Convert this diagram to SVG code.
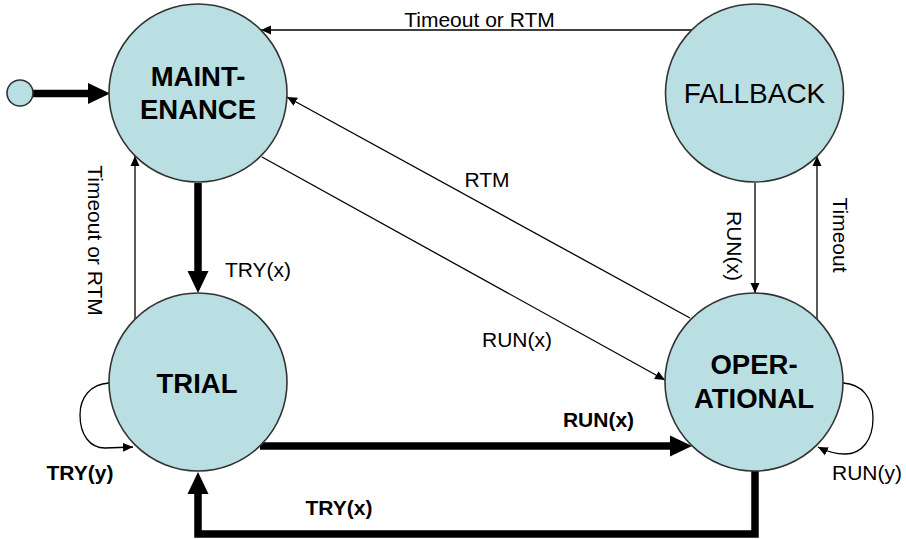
<svg xmlns="http://www.w3.org/2000/svg" width="906" height="539" viewBox="0 0 906 539">
<style>
.node{fill:#BADFE3;stroke:#333333;stroke-width:1.6}
.nb{font-family:"Liberation Sans",Arial,sans-serif;font-weight:bold;font-size:27.5px;fill:#000;text-anchor:middle}
.nr{font-family:"Liberation Sans",Arial,sans-serif;font-size:28px;fill:#000;text-anchor:middle}
.lbl{font-family:"Liberation Sans",Arial,sans-serif;font-size:21px;fill:#000;text-anchor:middle}
.lblb{font-family:"Liberation Sans",Arial,sans-serif;font-size:21px;font-weight:bold;fill:#000;text-anchor:middle}
.thin{fill:none;stroke:#000;stroke-width:1.3;marker-end:url(#ah)}
.thick{fill:none;stroke:#000;stroke-width:7.5;stroke-linejoin:miter;marker-end:url(#AH)}
</style>
<defs>
<marker id="ah" markerUnits="userSpaceOnUse" markerWidth="12" markerHeight="10" viewBox="0 -5 12 10" refX="10" refY="0" orient="auto">
<path d="M0,-4.5 L10,0 L0,4.5 z" fill="#000"/>
</marker>
<marker id="AH" markerUnits="userSpaceOnUse" markerWidth="24" markerHeight="24" viewBox="0 -12 24 24" refX="0" refY="0" orient="auto">
<path d="M0,-10.5 L22,0 L0,10.5 z" fill="#000"/>
</marker>
</defs>
<g id="connectors">
<path class="thick" d="M33,93.5 H88"/>
<path class="thick" d="M198,183 V271"/>
<path class="thick" d="M260,446 H670"/>
<path class="thick" d="M755,471 V534 H198 V494"/>
<path class="thin" d="M691,30 H261"/>
<path class="thin" d="M690,318 L287,97"/>
<path class="thin" d="M262,157 L665,380"/>
<path class="thin" d="M135,319 V156"/>
<path class="thin" d="M755,183 V293"/>
<path class="thin" d="M817,319 V156"/>
<path class="thin" d="M109,383 C90,384 80,398 80,415 C80,435 90,448 105,448 L133,447"/>
<path class="thin" d="M843,383 C862,384 873,398 873,418 C873,440 862,454 845,454 C835,454 826,451 818,447"/>
<text class="lbl" x="479.5" y="27">Timeout or RTM</text>
<text class="lbl" x="487" y="187">RTM</text>
<text class="lbl" x="517" y="347">RUN(x)</text>
<text class="lbl" x="258" y="277">TRY(x)</text>
<text class="lbl" transform="translate(88,240.5) rotate(90)">Timeout or RTM</text>
<text class="lbl" transform="translate(727,246) rotate(90)">RUN(x)</text>
<text class="lbl" transform="translate(833,235) rotate(90)">Timeout</text>
<text class="lblb" x="80" y="480">TRY(y)</text>
<text class="lblb" x="598.5" y="427">RUN(x)</text>
<text class="lblb" x="339" y="515">TRY(x)</text>
<text class="lbl" x="867" y="480">RUN(y)</text>
</g>
<g id="start"><circle class="node" cx="20" cy="93" r="13"/></g>
<g id="maintenance">
<circle class="node" cx="198" cy="93" r="89"/>
<text class="nb" x="198" y="86">MAINT-</text>
<text class="nb" x="198" y="119">ENANCE</text>
</g>
<g id="fallback">
<circle class="node" cx="754.5" cy="93" r="89"/>
<text class="nr" x="754.5" y="103">FALLBACK</text>
</g>
<g id="trial">
<circle class="node" cx="198" cy="382" r="89"/>
<text class="nb" x="197" y="393">TRIAL</text>
</g>
<g id="operational">
<circle class="node" cx="754" cy="382" r="89"/>
<text class="nb" x="754" y="374">OPER-</text>
<text class="nb" x="754" y="408">ATIONAL</text>
</g>
</svg>
